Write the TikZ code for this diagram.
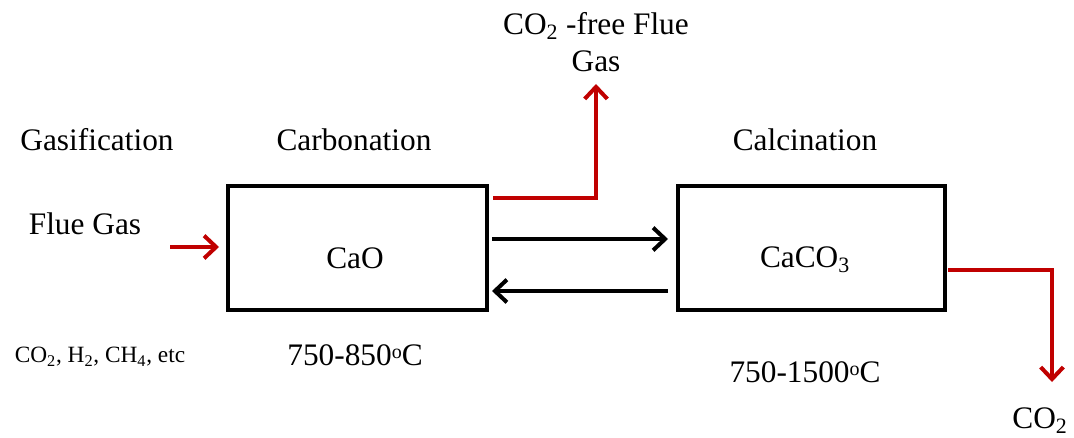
\documentclass[tikz,border=0pt]{standalone}
\usepackage{fontspec}
\setmainfont{Liberation Serif}
\usetikzlibrary{arrows.meta}
\definecolor{flowred}{HTML}{C00000}
\begin{document}
\begin{tikzpicture}[x=0.75pt,y=-0.75pt,
  lbl/.style={font=\fontsize{23.5}{28}\selectfont, inner sep=0pt, anchor=center},
  small/.style={font=\fontsize{17.5}{20}\selectfont, inner sep=0pt, anchor=center},
  reactor/.style={draw=black, line width=3pt, minimum width=259*0.75pt, minimum height=124*0.75pt, inner sep=0pt},
  blackflow/.style={draw=black, line width=3pt, -{Straight Barb[length=9pt,width=17pt,line width=3pt]}},
  redflow/.style={draw=flowred, line width=3pt, -{Straight Barb[length=9pt,width=17pt,line width=3pt]}}]
\useasboundingbox (0,0) rectangle (1074,438);
% boxes
\node[reactor, minimum width=259*0.75pt] (carb) at (357.5,248) {};
\node[reactor, minimum width=267*0.75pt] (calc) at (811.5,248) {};
% texts
\node[lbl] (gas) at (97,140) {Gasification};
\node[lbl] (carbt) at (354,140) {Carbonation};
\node[lbl] (calct) at (805,140) {Calcination};
\node[lbl] (flue) at (85,224) {Flue Gas};
\node[lbl] (cao) at (355,258) {CaO};
\node[lbl] (caco) at (805,260) {CaCO\textsubscript{3}};
\node[lbl] (t1) at (355,355) {750-850\raisebox{0.5ex}{\fontsize{15}{18}\selectfont o}C};
\node[lbl] (t2) at (805,372) {750-1500\raisebox{0.5ex}{\fontsize{15}{18}\selectfont o}C};
\node[small] (mix) at (100,357) {CO\textsubscript{2}, H\textsubscript{2}, CH\textsubscript{4}, etc};
\node[lbl, align=center] (free) at (596,42) {CO\textsubscript{2} -free Flue\\Gas};
\node[lbl] (co2) at (1040,421) {CO\textsubscript{2}};
% coordinates
\coordinate (inS) at (170,247);
\coordinate (inE) at (219,247);
\coordinate (upS) at (493,198);
\coordinate (upC) at (596,198);
\coordinate (upE) at (596,84);
\coordinate (fS) at (492,239);
\coordinate (fE) at (668,239);
\coordinate (bS) at (668,291);
\coordinate (bE) at (492,291);
\coordinate (oS) at (948,270);
\coordinate (oC) at (1052,270);
\coordinate (oE) at (1052,382);
% connectors
\draw[redflow] (inS) -- (inE);
\draw[redflow] (upS) -- (upC) -- (upE);
\draw[blackflow] (fS) -- (fE);
\draw[blackflow] (bS) -- (bE);
\draw[redflow] (oS) -- (oC) -- (oE);
\end{tikzpicture}
\end{document}
